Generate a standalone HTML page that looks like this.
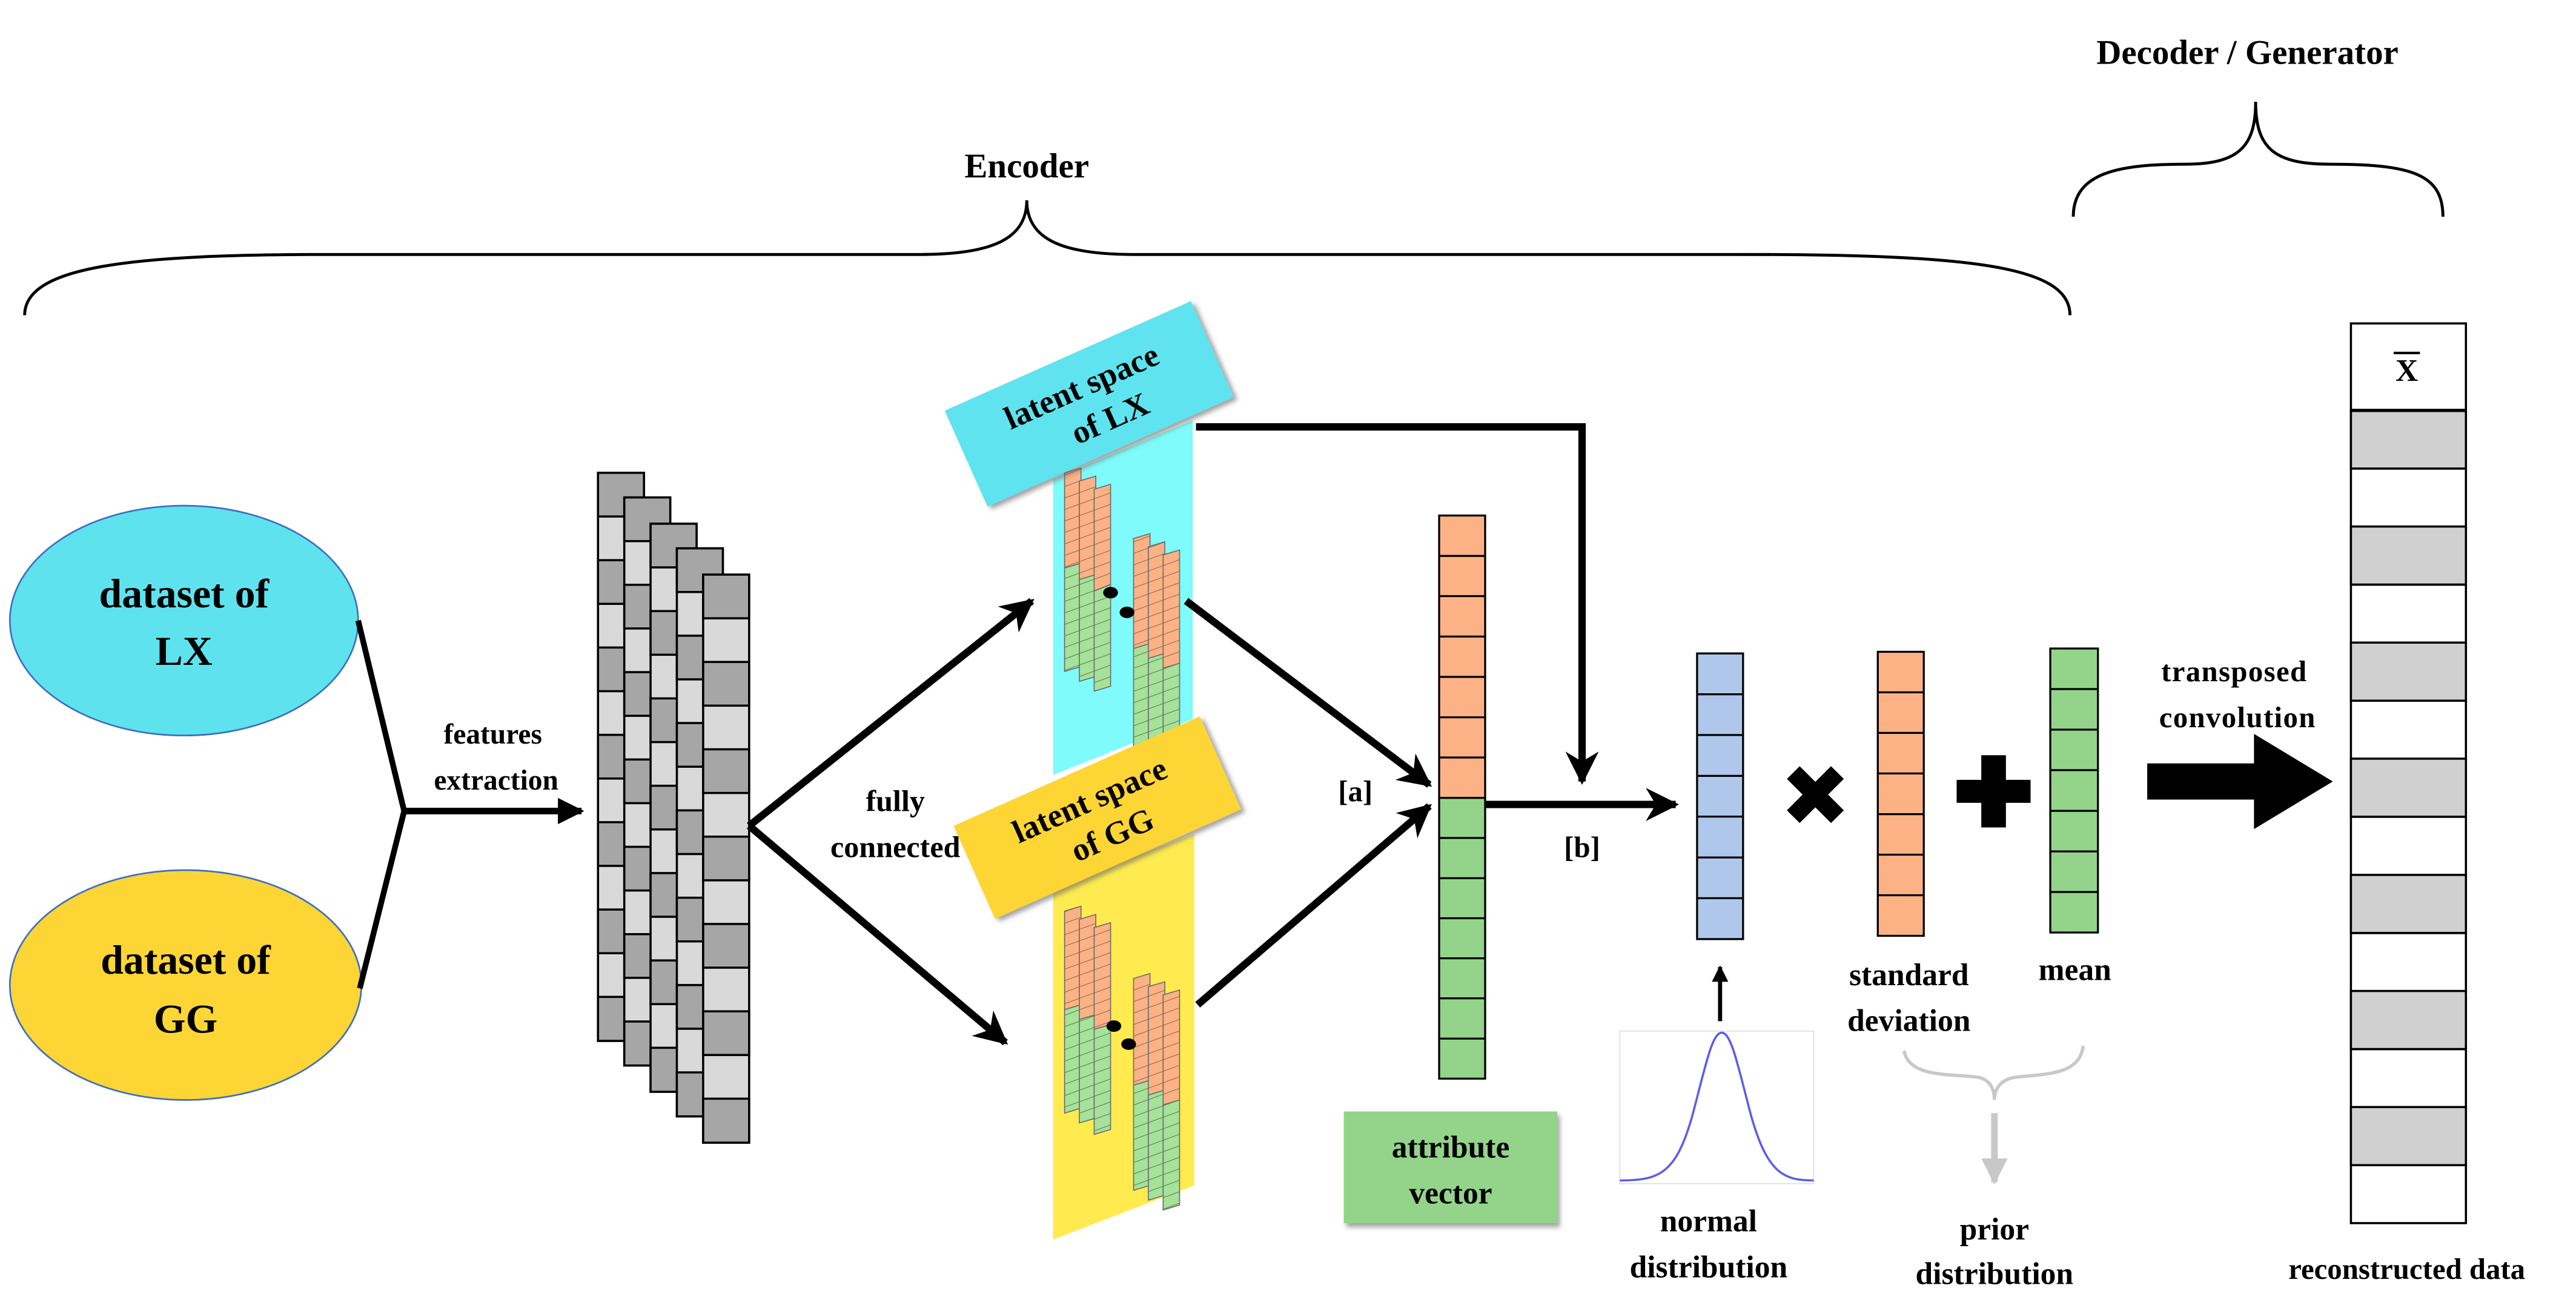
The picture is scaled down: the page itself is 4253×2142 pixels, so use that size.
<!DOCTYPE html>
<html><head><meta charset="utf-8"><style>
html,body{margin:0;padding:0;background:#fff}
svg{display:block}
text{font-family:"Liberation Serif",serif;font-weight:bold;fill:#000}
</style></head><body>
<svg width="4253" height="2142" viewBox="0 0 1568 790" preserveAspectRatio="none" xmlns="http://www.w3.org/2000/svg">
<defs>
<marker id="ah" viewBox="0 0 10 10" refX="9" refY="5" markerWidth="4.5" markerHeight="4.5" orient="auto" markerUnits="strokeWidth"><path d="M0,0 L10,5 L0,10 L3,5 z" fill="#000"/></marker>
<marker id="ahs" viewBox="0 0 10 10" refX="9" refY="5" markerWidth="4" markerHeight="4" orient="auto" markerUnits="strokeWidth"><path d="M0,0 L10,5 L0,10 z" fill="#000"/></marker>
<marker id="ahg" viewBox="0 0 10 10" refX="9" refY="5" markerWidth="4" markerHeight="4" orient="auto" markerUnits="strokeWidth"><path d="M0,0 L10,5 L0,10 z" fill="#c8c8c8"/></marker>
<pattern id="cellO" width="10" height="7" patternUnits="userSpaceOnUse" patternTransform="skewY(-20)"><rect width="10" height="7" fill="#fcb285"/><line x1="0" y1="0" x2="10" y2="0" stroke="#8a6a50" stroke-width="0.8"/></pattern>
<pattern id="cellG" width="10" height="7" patternUnits="userSpaceOnUse" patternTransform="skewY(-20)"><rect width="10" height="7" fill="#a6e29a"/><line x1="0" y1="0" x2="10" y2="0" stroke="#5a7a55" stroke-width="0.8"/></pattern>
<filter id="sh" x="-10%" y="-10%" width="130%" height="140%"><feDropShadow dx="1.5" dy="2.5" stdDeviation="1.5" flood-color="#666" flood-opacity="0.6"/></filter>
</defs>

<path d="M15,192 C15,162 80,155 200,155 L560,155 C605,155 625,145 625,122 C625,145 645,155 690,155 L1060,155 C1200,155 1260,162 1260,192" fill="none" stroke="#000" stroke-width="1.8"/>
<text x="625" y="108" font-size="21" text-anchor="middle">Encoder</text>
<path d="M1262,132 C1262,105 1290,100 1330,100 C1362,100 1373,90 1373,62 C1373,90 1384,100 1418,100 C1468,100 1487,106 1487,132" fill="none" stroke="#000" stroke-width="1.8"/>
<text x="1368" y="39" font-size="21" text-anchor="middle">Decoder / Generator</text>

<ellipse cx="112" cy="378" rx="106" ry="70" fill="#5ee3ee" stroke="#3f6fc0" stroke-width="1"/>
<text x="112" y="370" font-size="25" text-anchor="middle">dataset of</text>
<text x="112" y="405" font-size="25" text-anchor="middle">LX</text>
<ellipse cx="113" cy="600" rx="107" ry="70" fill="#fdd535" stroke="#3f6fc0" stroke-width="1"/>
<text x="113" y="593" font-size="25" text-anchor="middle">dataset of</text>
<text x="113" y="629" font-size="25" text-anchor="middle">GG</text>

<polyline points="218,378 246,494 219,602" fill="none" stroke="#000" stroke-width="3.5"/>
<line x1="246" y1="494" x2="354" y2="494" stroke="#000" stroke-width="4" marker-end="url(#ahs)"/>
<text x="300" y="453" font-size="17.5" text-anchor="middle">features</text>
<text x="302" y="481" font-size="17.5" text-anchor="middle">extraction</text>

<g stroke="#000" stroke-width="1.3">
<g id="col">
<rect x="364" y="288" width="28" height="346" fill="#d9d9d9"/>
<rect x="364" y="288" width="28" height="26.6" fill="#a6a6a6"/>
<rect x="364" y="341.2" width="28" height="26.6" fill="#a6a6a6"/>
<rect x="364" y="394.4" width="28" height="26.6" fill="#a6a6a6"/>
<rect x="364" y="447.6" width="28" height="26.6" fill="#a6a6a6"/>
<rect x="364" y="500.8" width="28" height="26.6" fill="#a6a6a6"/>
<rect x="364" y="554" width="28" height="26.6" fill="#a6a6a6"/>
<rect x="364" y="607.2" width="28" height="26.8" fill="#a6a6a6"/>
</g>
<use href="#col" x="16" y="15"/>
<use href="#col" x="32" y="31"/>
<use href="#col" x="48" y="46"/>
<use href="#col" x="64" y="62"/>
</g>

<line x1="456" y1="503" x2="628" y2="366" stroke="#000" stroke-width="4.5" marker-end="url(#ah)"/>
<line x1="456" y1="503" x2="612" y2="635" stroke="#000" stroke-width="4.5" marker-end="url(#ah)"/>
<text x="545" y="494" font-size="18.5" text-anchor="middle">fully</text>
<text x="545" y="522" font-size="18.5" text-anchor="middle">connected</text>

<polygon points="641,292 726,256 726,438 641,472" fill="#7ffbfb"/>
<polygon points="641,540 727,508 727,722 641,755" fill="#ffeb4f"/>

<g stroke="#6a6a6a" stroke-width="0.6">
<polygon points="648,288 658,285 658,343 648,346" fill="url(#cellO)"/>
<polygon points="648,346 658,343 658,406 648,409" fill="url(#cellG)"/>
<polygon points="657,293 667,290 667,350 657,353" fill="url(#cellO)"/>
<polygon points="657,353 667,350 667,412 657,415" fill="url(#cellG)"/>
<polygon points="666,298 676,295 676,356 666,360" fill="url(#cellO)"/>
<polygon points="666,360 676,356 676,418 666,421" fill="url(#cellG)"/>
<polygon points="690,328 700,325 700,392 690,395" fill="url(#cellO)"/>
<polygon points="690,395 700,392 700,452 690,455" fill="url(#cellG)"/>
<polygon points="699,333 709,330 709,398 699,401" fill="url(#cellO)"/>
<polygon points="699,401 709,398 709,458 699,461" fill="url(#cellG)"/>
<polygon points="708,338 718,335 718,404 708,407" fill="url(#cellO)"/>
<polygon points="708,407 718,404 718,465 708,468" fill="url(#cellG)"/>
</g>
<ellipse cx="676" cy="361" rx="4.5" ry="3.5" fill="#000"/>
<ellipse cx="686" cy="373" rx="4.5" ry="3.5" fill="#000"/>

<g stroke="#6a6a6a" stroke-width="0.6">
<polygon points="648,555 658,552 658,612 648,615" fill="url(#cellO)"/>
<polygon points="648,615 658,612 658,675 648,678" fill="url(#cellG)"/>
<polygon points="657,560 667,557 667,618 657,621" fill="url(#cellO)"/>
<polygon points="657,621 667,618 667,681 657,684" fill="url(#cellG)"/>
<polygon points="666,565 676,562 676,624 666,627" fill="url(#cellO)"/>
<polygon points="666,627 676,624 676,688 666,691" fill="url(#cellG)"/>
<polygon points="690,596 700,593 700,658 690,661" fill="url(#cellO)"/>
<polygon points="690,661 700,658 700,722 690,725" fill="url(#cellG)"/>
<polygon points="699,601 709,598 709,664 699,667" fill="url(#cellO)"/>
<polygon points="699,667 709,664 709,728 699,731" fill="url(#cellG)"/>
<polygon points="708,606 718,603 718,670 708,673" fill="url(#cellO)"/>
<polygon points="708,673 718,670 718,734 708,737" fill="url(#cellG)"/>
</g>
<ellipse cx="678" cy="625" rx="4.5" ry="3.5" fill="#000"/>
<ellipse cx="687" cy="636" rx="4.5" ry="3.5" fill="#000"/>

<g transform="translate(663,246) rotate(-24)" filter="url(#sh)">
<rect x="-82" y="-32" width="164" height="64" fill="#5ee3ee"/>
<text x="0" y="-5" font-size="20" text-anchor="middle">latent space</text>
<text x="8" y="20" font-size="20" text-anchor="middle">of LX</text>
</g>
<g transform="translate(668,498) rotate(-24)" filter="url(#sh)">
<rect x="-82" y="-31" width="164" height="62" fill="#fdd535"/>
<text x="0" y="-5" font-size="20" text-anchor="middle">latent space</text>
<text x="4" y="20" font-size="20" text-anchor="middle">of GG</text>
</g>

<line x1="722" y1="366" x2="870" y2="478" stroke="#000" stroke-width="4.5" marker-end="url(#ah)"/>
<line x1="729" y1="612" x2="870" y2="491" stroke="#000" stroke-width="4.5" marker-end="url(#ah)"/>
<text x="825" y="488" font-size="18" text-anchor="middle">[a]</text>

<g stroke="#000" stroke-width="1.2">
<rect x="876" y="314" width="28" height="172" fill="#fcb285"/>
<rect x="876" y="486" width="28" height="171" fill="#93d48a"/>
<path d="M876,338.6H904M876,363.1H904M876,387.7H904M876,412.3H904M876,436.9H904M876,461.4H904M876,510.4H904M876,534.9H904M876,559.3H904M876,583.7H904M876,608.1H904M876,632.6H904" fill="none"/>
</g>

<polyline points="728,260 963,260 963,476" fill="none" stroke="#000" stroke-width="4.5" marker-end="url(#ah)"/>
<line x1="904" y1="490" x2="1020" y2="490" stroke="#000" stroke-width="4.5" marker-end="url(#ah)"/>
<text x="963" y="522" font-size="18" text-anchor="middle">[b]</text>

<g stroke="#000" stroke-width="1.2">
<rect x="1033" y="398" width="28" height="174" fill="#aec7ea"/>
<path d="M1033,422.9H1061M1033,447.7H1061M1033,472.6H1061M1033,497.4H1061M1033,522.3H1061M1033,547.1H1061" fill="none"/>
<rect x="1143" y="397" width="28" height="173" fill="#fcb285"/>
<path d="M1143,421.7H1171M1143,446.4H1171M1143,471.1H1171M1143,495.9H1171M1143,520.6H1171M1143,545.3H1171" fill="none"/>
<rect x="1248" y="395" width="29" height="173" fill="#93d48a"/>
<path d="M1248,419.7H1277M1248,444.4H1277M1248,469.1H1277M1248,493.9H1277M1248,518.6H1277M1248,543.3H1277" fill="none"/>
</g>
<g transform="translate(1105,484) rotate(45)"><rect x="-19" y="-5.5" width="38" height="11" fill="#000"/><rect x="-5.5" y="-19" width="11" height="38" fill="#000"/></g>
<rect x="1191" y="475" width="45" height="14" fill="#000"/>
<rect x="1206" y="460" width="15" height="44" fill="#000"/>

<text x="1162" y="600" font-size="19" text-anchor="middle">standard</text>
<text x="1162" y="628" font-size="19" text-anchor="middle">deviation</text>
<text x="1263" y="597" font-size="19" text-anchor="middle">mean</text>

<path d="M1159,640 C1162,656 1185,654 1203,656 C1211,657 1214,663 1214,670 C1214,663 1218,657 1228,656 C1248,654 1266,654 1268,637" fill="none" stroke="#c8c8c8" stroke-width="2"/>
<line x1="1214" y1="678" x2="1214" y2="720" stroke="#c8c8c8" stroke-width="4" marker-end="url(#ahg)"/>
<text x="1214" y="755" font-size="19" text-anchor="middle">prior</text>
<text x="1214" y="782" font-size="19" text-anchor="middle">distribution</text>

<rect x="986" y="628" width="118" height="93" fill="#fff" stroke="#ddd" stroke-width="0.6"/>
<path d="M986,719 C1010,719 1020,715 1030,680 C1038,650 1042,629 1048,629 C1054,629 1058,650 1066,680 C1076,715 1086,719 1104,719" fill="none" stroke="#5b5bf0" stroke-width="1.3"/>
<line x1="1047" y1="622" x2="1047" y2="589" stroke="#000" stroke-width="2.5" marker-end="url(#ahs)"/>
<text x="1040" y="750" font-size="19" text-anchor="middle">normal</text>
<text x="1040" y="778" font-size="19" text-anchor="middle">distribution</text>

<rect x="818" y="677" width="130" height="68" fill="#93d48a" filter="url(#sh)"/>
<text x="883" y="705" font-size="19" text-anchor="middle">attribute</text>
<text x="883" y="733" font-size="19" text-anchor="middle">vector</text>

<text x="1360" y="415" font-size="18" text-anchor="middle" letter-spacing="0.5">transposed</text>
<text x="1362" y="443" font-size="18" text-anchor="middle" letter-spacing="0.5">convolution</text>
<polygon points="1307,465 1372,465 1372,447 1420,476 1372,505 1372,487 1307,487" fill="#000"/>

<g stroke="#000" stroke-width="1.3">
<rect x="1431" y="197" width="70" height="548" fill="#fff"/>
<rect x="1431" y="250" width="70" height="35.4" fill="#d0d0d0"/>
<rect x="1431" y="320.7" width="70" height="35.4" fill="#d0d0d0"/>
<rect x="1431" y="391.4" width="70" height="35.4" fill="#d0d0d0"/>
<rect x="1431" y="462.1" width="70" height="35.4" fill="#d0d0d0"/>
<rect x="1431" y="532.9" width="70" height="35.4" fill="#d0d0d0"/>
<rect x="1431" y="603.6" width="70" height="35.4" fill="#d0d0d0"/>
<rect x="1431" y="674.3" width="70" height="35.4" fill="#d0d0d0"/>
<path d="M1431,285.4H1501M1431,356.1H1501M1431,426.8H1501M1431,497.5H1501M1431,568.3H1501M1431,639H1501M1431,709.7H1501" fill="none"/>
</g>
<line x1="1431" y1="250" x2="1501" y2="250" stroke="#000" stroke-width="2"/>
<text x="1465" y="232" font-size="19" text-anchor="middle">X</text>
<line x1="1457" y1="215" x2="1473" y2="215" stroke="#000" stroke-width="1.5"/>
<text x="1465" y="779" font-size="18" text-anchor="middle">reconstructed data</text>
</svg>
</body></html>
